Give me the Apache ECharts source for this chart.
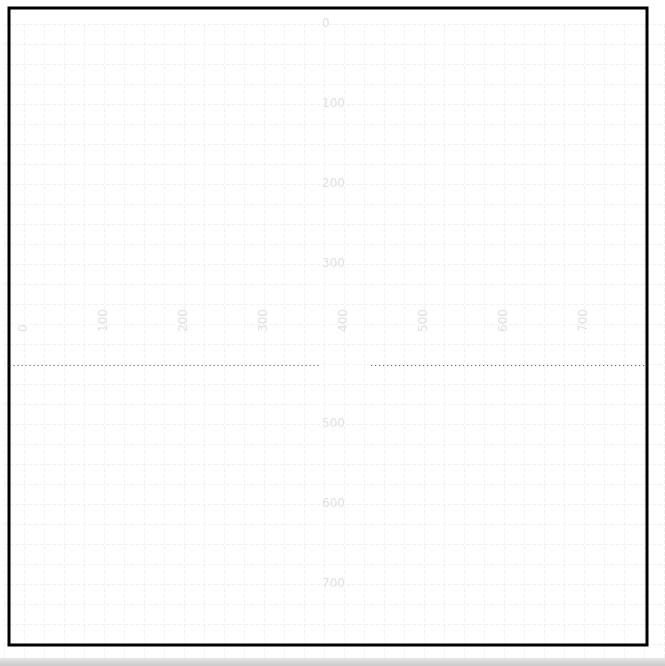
<!DOCTYPE html>
<html>
<head>
<meta charset="utf-8">
<script src="https://cdn.jsdelivr.net/npm/echarts@6/dist/echarts.min.js"></script>
<style>html,body{margin:0;padding:0;background:#fff;}#c{width:665px;height:666px;}</style>
</head>
<body>
<div id="c"></div>
<script>
// Tick labels shown on both axes
const xTickLabels = [0, 100, 200, 300, 400, 500, 600, 700];
const yTickLabels = [0, 100, 200, 300, 500, 600, 700];
// Axis ranges (x axis starts a little left of 0, gridlines every 25)
const xRange = [-25, 800];
const yRange = [0, 800];
const gridStep = 25;
// Dotted reference line (y value) and its two visible segments (x ranges)
const refLineY = 427;
const refSegments = [[-18, 372], [434, 776]];

const chart = echarts.init(document.getElementById('c'), null, {renderer: 'canvas'});
const option = {
  backgroundColor: '#ffffff',
  animation: false,
  grid: {left: 4, top: 24, width: 660, height: 640, containLabel: false},
  xAxis: {
    type: 'value', min: xRange[0], max: xRange[1], interval: gridStep,
    position: 'top', offset: -316,
    axisLine: {show: false}, axisTick: {show: false},
    axisLabel: {rotate: 90, color: '#e0e0e0', fontSize: 12, margin: 8, fontFamily: 'DejaVu Sans',
      formatter: function (v) { return xTickLabels.indexOf(v) >= 0 ? String(v) : ''; }},
    splitLine: {show: true, lineStyle: {color: '#f2f2f2', type: 'dashed'}}
  },
  yAxis: {
    type: 'value', min: yRange[0], max: yRange[1], interval: gridStep, inverse: true,
    position: 'right', offset: -348,
    axisLine: {show: false}, axisTick: {show: false},
    axisLabel: {color: '#e0e0e0', fontSize: 12, margin: 6, fontFamily: 'DejaVu Sans',
      formatter: function (v) { return yTickLabels.indexOf(v) >= 0 ? String(v) : ''; }},
    splitLine: {show: true, lineStyle: {color: '#f2f2f2', type: 'dashed'}}
  },
  series: [{
    type: 'line', data: [], silent: true,
    markLine: {
      silent: true, symbol: 'none', label: {show: false},
      lineStyle: {color: '#444', type: [1, 3], width: 1},
      data: refSegments.map(s => [{coord: [s[0], refLineY]}, {coord: [s[1], refLineY]}])
    }
  }],
  graphic: [
    {type: 'rect', shape: {x: 9, y: 8, width: 638, height: 637},
      style: {fill: 'none', stroke: '#000', lineWidth: 3}, z: 100},
    {type: 'rect', shape: {x: 0, y: 658, width: 665, height: 8},
      style: {fill: new echarts.graphic.LinearGradient(0, 0, 0, 1, [
        {offset: 0, color: '#e8e8e8'}, {offset: 1, color: '#c8c8c8'}])}, z: 100}
  ]
};
chart.setOption(option);
</script>
</body>
</html>
